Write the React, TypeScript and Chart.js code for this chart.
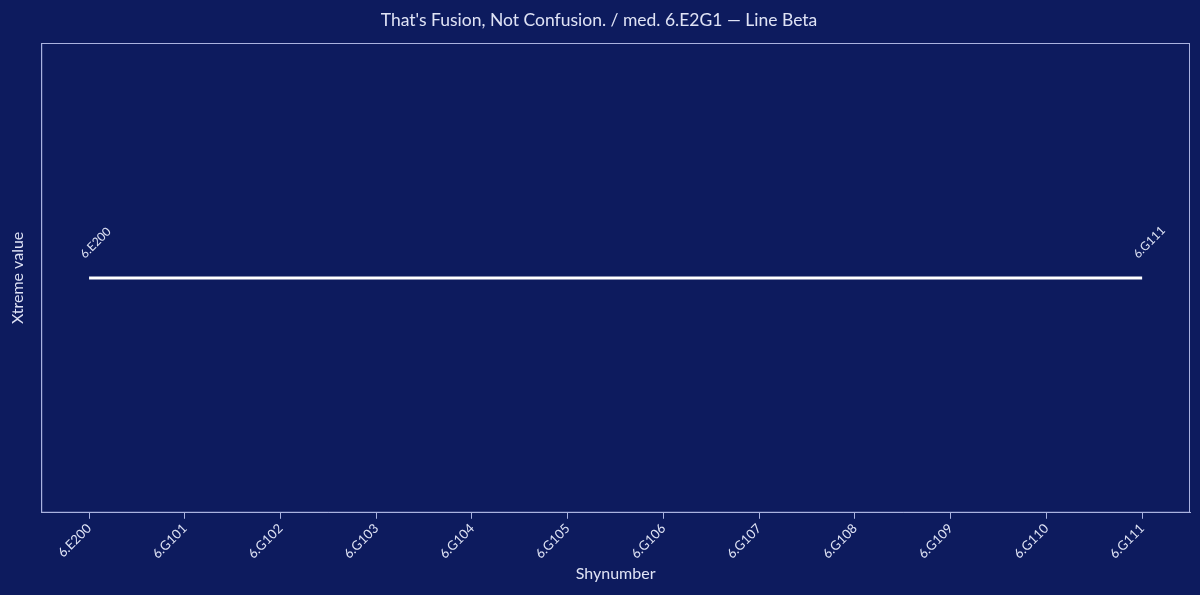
import React, { useEffect, useRef } from "react";
import { Chart, registerables } from "chart.js";

Chart.register(...registerables);

const categories = [
  "6.E200", "6.G101", "6.G102", "6.G103", "6.G104", "6.G105",
  "6.G106", "6.G107", "6.G108", "6.G109", "6.G110", "6.G111",
];
const seriesValues: (number | null)[] = [1, null, null, null, null, null, null, null, null, null, null, 1];
const pointLabels: (string | null)[] = ["6.E200", null, null, null, null, null, null, null, null, null, null, "6.G111"];

const BG = "#0d1b5e";
const TEXT = "#dfe3f5";
const FRAME = "#aab3e0";
const FONT = "'Source Sans Pro', Lato, 'Noto Sans', sans-serif";

const bgPlugin = {
  id: "bgfill",
  beforeDraw(chart: any) {
    const ctx = chart.ctx;
    ctx.save();
    ctx.fillStyle = BG;
    ctx.fillRect(0, 0, chart.width, chart.height);
    ctx.restore();
  },
  afterDraw(chart: any) {
    const { ctx, chartArea } = chart;
    ctx.save();
    ctx.strokeStyle = FRAME;
    ctx.lineWidth = 1;
    ctx.strokeRect(chartArea.left + 0.5, chartArea.top + 0.5, chartArea.right - chartArea.left - 1, chartArea.bottom - chartArea.top - 1);
    ctx.restore();
  },
};

const labelPlugin = {
  id: "endlabels",
  afterDatasetsDraw(chart: any) {
    const ctx = chart.ctx;
    const meta = chart.getDatasetMeta(0);
    ctx.save();
    ctx.fillStyle = TEXT;
    ctx.font = `12px ${FONT}`;
    ctx.textAlign = "left";
    ctx.textBaseline = "alphabetic";
    meta.data.forEach((pt: any, i: number) => {
      const lbl = pointLabels[i];
      if (!lbl || seriesValues[i] == null) return;
      ctx.save();
      ctx.translate(pt.x - 4, pt.y - 19);
      ctx.rotate(-Math.PI / 4);
      ctx.fillText(lbl, 0, 0);
      ctx.restore();
    });
    ctx.restore();
  },
};

export default function App() {
  const ref = useRef<HTMLCanvasElement>(null);
  useEffect(() => {
    document.body.style.margin = "0";
    document.body.style.background = BG;
    const chart = new Chart(ref.current!, {
      type: "line",
      data: {
        labels: categories,
        datasets: [
          {
            data: seriesValues,
            borderColor: "#ffffff",
            borderWidth: 3,
            pointRadius: 0,
            spanGaps: true,
            tension: 0,
          },
        ],
      },
      options: {
        animation: false,
        responsive: false,
        maintainAspectRatio: false,
        layout: { padding: { top: 4, right: 10, bottom: 12, left: 8 } },
        plugins: {
          legend: { display: false },
          tooltip: { enabled: false },
          title: {
            display: true,
            text: "That's Fusion, Not Confusion. / med. 6.E2G1 — Line Beta",
            color: TEXT,
            font: { family: FONT, size: 17.5, weight: "normal" },
            padding: { top: 6, bottom: 12 },
          },
        },
        scales: {
          x: {
            offset: true,
            grid: { display: true, drawOnChartArea: false, drawTicks: true, tickLength: 6, color: FRAME },
            border: { display: true, color: FRAME },
            ticks: {
              color: TEXT,
              font: { family: FONT, size: 13 },
              maxRotation: 45,
              minRotation: 45,
              autoSkip: false,
              padding: 2,
            },
            title: {
              display: true,
              text: "Shynumber",
              color: TEXT,
              font: { family: FONT, size: 16 },
              padding: { top: 0, bottom: 0 },
            },
          },
          y: {
            grid: { display: false },
            border: { display: true, color: FRAME },
            ticks: { display: false },
            title: {
              display: true,
              text: "Xtreme value",
              color: TEXT,
              font: { family: FONT, size: 16 },
              padding: { top: 0, bottom: 6 },
            },
          },
        },
      },
      plugins: [bgPlugin, labelPlugin],
    });
    return () => chart.destroy();
  }, []);
  return (
    <div style={{ width: 1200, height: 595, background: BG }}>
      <canvas ref={ref} width={1200} height={595} style={{ display: "block" }} />
    </div>
  );
}
